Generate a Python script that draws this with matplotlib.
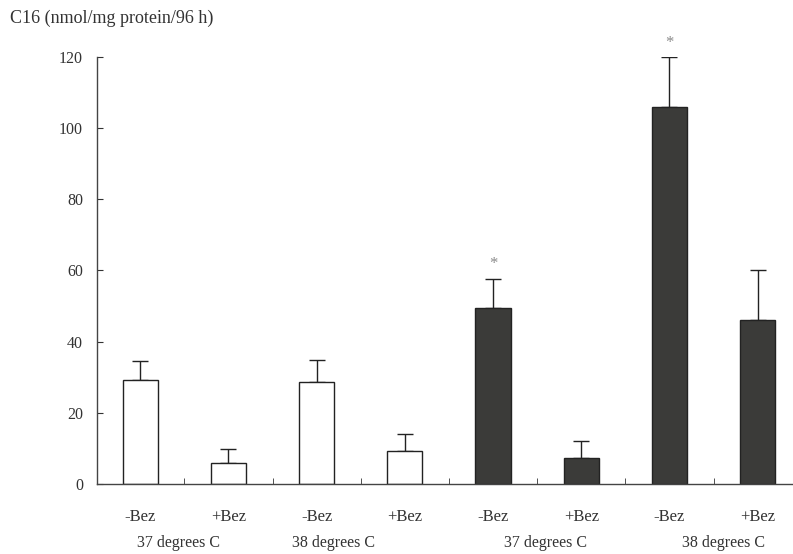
import matplotlib
matplotlib.use('Agg')
import matplotlib.pyplot as plt
import matplotlib.transforms as mtransforms
import numpy as np

# bar order: -Bez/+Bez for 37 and 38 degrees, white group then dark group
treatments = ['-Bez', '+Bez', '-Bez', '+Bez', '-Bez', '+Bez', '-Bez', '+Bez']
temps = ['37 degrees C', '38 degrees C', '37 degrees C', '38 degrees C']
c16 = [29.2, 5.8, 28.8, 9.4, 49.5, 7.3, 106.0, 46.0]
sem = [5.5, 4.0, 6.0, 4.6, 8.2, 4.8, 14.0, 14.0]
starred = [4, 6]

plt.rcParams['font.family'] = ['Liberation Serif', 'DejaVu Serif']

fig = plt.figure(figsize=(7.93, 5.54), dpi=100)
ax = fig.add_axes([0.1223, 0.1264, 0.8777, 0.7707])

x = np.arange(len(c16))
face = ['white'] * 4 + ['#3b3b39'] * 4
ax.bar(x, c16, width=0.4, color=face, edgecolor='#222222', linewidth=1.0, zorder=2)
ax.errorbar(x, c16, yerr=[np.zeros(len(sem)), sem], fmt='none', ecolor='#222222',
            elinewidth=1.0, capsize=6, capthick=1.0, zorder=1)

for i in starred:
    ax.text(x[i], c16[i] + sem[i] + 4, '*', ha='center', va='center',
            fontsize=12, color='#8a8a8a')

ax.set_xlim(-0.49, 7.4)
ax.set_ylim(0, 120)
ax.set_yticks(np.arange(0, 121, 20))
ax.tick_params(axis='y', direction='in', length=4, labelsize=11.5, pad=10, colors='#333333')

ax.set_xticks(x)
ax.set_xticklabels(treatments)
ax.set_xticks(np.arange(0.5, 7, 1), minor=True)
ax.tick_params(axis='x', which='major', length=0, pad=18, labelsize=12, colors='#333333')
ax.tick_params(axis='x', which='minor', direction='in', length=4, colors='#333333')

for s in ['top', 'right']:
    ax.spines[s].set_visible(False)
for s in ['left', 'bottom']:
    ax.spines[s].set_color('#444444')
    ax.spines[s].set_linewidth(1.0)

trans = mtransforms.blended_transform_factory(ax.transData, ax.transAxes)
for pos, lab in zip([0.43, 2.19, 4.59, 6.61], temps):
    ax.text(pos, -0.138, lab, transform=trans, ha='center', va='center',
            fontsize=11.5, color='#333333')

fig.text(0.012, 0.967, 'C16 (nmol/mg protein/96 h)', ha='left', va='center',
         fontsize=13, color='#333333')

plt.savefig('out.png', dpi=100)
